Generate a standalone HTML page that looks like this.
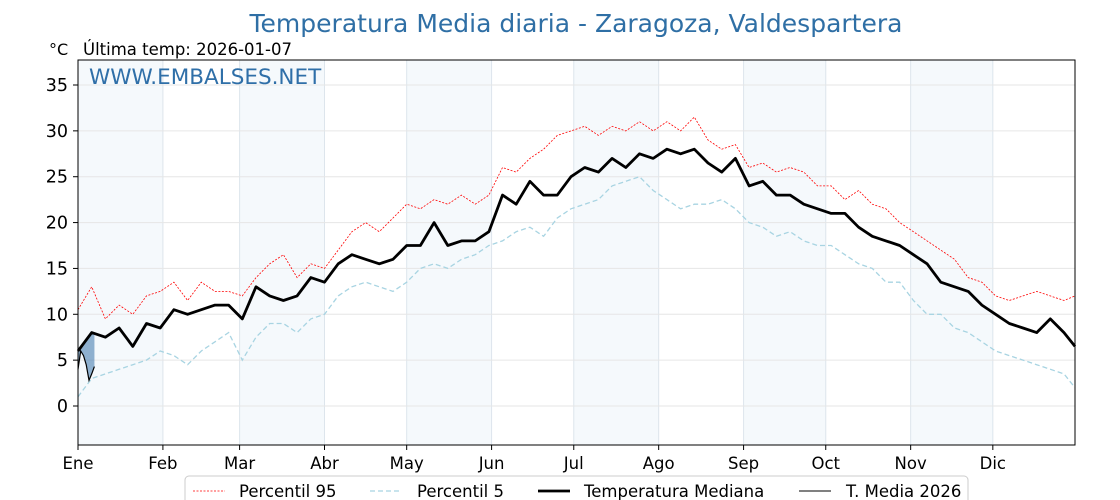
<!DOCTYPE html>
<html><head><meta charset="utf-8"><style>
html,body{margin:0;padding:0;background:#fff;}
svg{display:block;font-family:"Liberation Sans","DejaVu Sans",sans-serif;}
</style></head><body>
<svg id="chart" width="1120" height="500" viewBox="0 0 1120 500" xmlns="http://www.w3.org/2000/svg">
<text x="576" y="32" text-anchor="middle" font-size="25" fill="#2f6fa5" font-family="DejaVu Sans, sans-serif">Temperatura Media diaria - Zaragoza, Valdespartera</text>
<text x="49" y="55" font-size="16" fill="#000" font-family="DejaVu Sans, sans-serif">°C</text>
<text x="83" y="55" font-size="16.5" fill="#000" font-family="DejaVu Sans, sans-serif">Última temp: 2026-01-07</text>
<g id="bands"></g>
<g id="grid"></g>
<g id="series"></g>
<text x="89" y="84" font-size="21.5" fill="#2f6fa8" font-family="DejaVu Sans, sans-serif">WWW.EMBALSES.NET</text>
<rect x="78" y="60" width="997" height="385" fill="none" stroke="#000" stroke-width="1"/>
<g id="axes"></g>
<g>
<rect x="185" y="476" width="783" height="34" rx="4" fill="#fff" stroke="#ccc"/>
<g><line x1="193" y1="491" x2="225" y2="491" stroke="#ff0000" stroke-width="0.8" stroke-dasharray="2,1.5"/><text x="239" y="497" font-size="16.5" font-family="DejaVu Sans, sans-serif">Percentil 95</text></g>
<g><line x1="370" y1="491" x2="402" y2="491" stroke="#a8d4e2" stroke-width="1.3" stroke-dasharray="5,3"/><text x="417" y="497" font-size="16.5" font-family="DejaVu Sans, sans-serif">Percentil 5</text></g>
<g><line x1="538" y1="491" x2="570" y2="491" stroke="#000" stroke-width="2.8"/><text x="584" y="497" font-size="16.5" font-family="DejaVu Sans, sans-serif">Temperatura Mediana</text></g>
<g><line x1="799" y1="491" x2="831" y2="491" stroke="#000" stroke-width="1"/><text x="846" y="497" font-size="16.5" font-family="DejaVu Sans, sans-serif">T. Media 2026</text></g>
</g>
</svg>
<script>
const days = [0,5,10,15,20,25,30,35,40,45,50,55,60,65,70,75,80,85,90,95,100,105,110,115,120,125,130,135,140,145,150,155,160,165,170,175,180,185,190,195,200,205,210,215,220,225,230,235,240,245,250,255,260,265,270,275,280,285,290,295,300,305,310,315,320,325,330,335,340,345,350,355,360,364];
const median = [6,8,7.5,8.5,6.5,9,8.5,10.5,10,10.5,11,11,9.5,13,12,11.5,12,14,13.5,15.5,16.5,16,15.5,16,17.5,17.5,20,17.5,18,18,19,23,22,24.5,23,23,25,26,25.5,27,26,27.5,27,28,27.5,28,26.5,25.5,27,24,24.5,23,23,22,21.5,21,21,19.5,18.5,18,17.5,16.5,15.5,13.5,13,12.5,11,10,9,8.5,8,9.5,8,6.5];
const p95 = [10.5,13,9.5,11,10,12,12.5,13.5,11.5,13.5,12.5,12.5,12,14,15.5,16.5,14,15.5,15,17,19,20,19,20.5,22,21.5,22.5,22,23,22,23,26,25.5,27,28,29.5,30,30.5,29.5,30.5,30,31,30,31,30,31.5,29,28,28.5,26,26.5,25.5,26,25.5,24,24,22.5,23.5,22,21.5,20,19,18,17,16,14,13.5,12,11.5,12,12.5,12,11.5,12];
const p5 = [1,3,3.5,4,4.5,5,6,5.5,4.5,6,7,8,5,7.5,9,9,8,9.5,10,12,13,13.5,13,12.5,13.5,15,15.5,15,16,16.5,17.5,18,19,19.5,18.5,20.5,21.5,22,22.5,24,24.5,25,23.5,22.5,21.5,22,22,22.5,21.5,20,19.5,18.5,19,18,17.5,17.5,16.5,15.5,15,13.5,13.5,11.5,10,10,8.5,8,7,6,5.5,5,4.5,4,3.5,2];
const days2026 = [0,1,2,3,4,5,6];
const temp2026 = [4.0,6.0,5.5,4.5,2.8,3.5,4.3];
const yTicks = [0,5,10,15,20,25,30,35];
const monthLabels = ["Ene","Feb","Mar","Abr","May","Jun","Jul","Ago","Sep","Oct","Nov","Dic"];
const monthStarts = [0,31,59,90,120,151,181,212,243,273,304,334];

const X0=78,X1=1075,Y0=445,Y1=60,NS="http://www.w3.org/2000/svg";
const xs=d=>X0+d*(X1-X0)/364;
const ys=v=>406-v*(406-85)/35;
function mk(tag,attrs,parent){const e=document.createElementNS(NS,tag);for(const k in attrs)e.setAttribute(k,attrs[k]);parent.appendChild(e);return e;}
const bands=document.getElementById('bands'),grid=document.getElementById('grid'),series=document.getElementById('series'),axes=document.getElementById('axes');
for(let i=0;i<12;i+=2){const a=xs(monthStarts[i]),b=xs(i+1<12?monthStarts[i+1]:364);
const r=mk('rect',{x:a,y:Y1,width:b-a,height:Y0-Y1,fill:'#f5f9fc'},bands);

}
monthStarts.forEach((d,i)=>{const x=xs(d);
const l=mk('line',{x1:x,x2:x,y1:Y1,y2:Y0,stroke:'#dde5ec','stroke-width':1},grid);


const t=mk('line',{x1:x,x2:x,y1:Y0,y2:Y0+5,stroke:'#000'},axes);


const tx=mk('text',{x:x,y:Y0+24,'text-anchor':'middle','font-size':16.5,'font-family':'DejaVu Sans, sans-serif'},axes);tx.textContent=monthLabels[i];

});
yTicks.forEach(v=>{const y=ys(v);
const l=mk('line',{x1:X0,x2:X1,y1:y,y2:y,stroke:'#e6e6e6','stroke-width':1},grid);


const t=mk('line',{x1:X0-5,x2:X0,y1:y,y2:y,stroke:'#000'},axes);


const tx=mk('text',{x:X0-10,y:y+6,'text-anchor':'end','font-size':17.5,'font-family':'DejaVu Sans, sans-serif'},axes);tx.textContent=v;

});
const pts=(dd,vv)=>dd.map((d,i)=>xs(d).toFixed(1)+','+ys(vv[i]).toFixed(1)).join(' ');
function interp(d){for(let i=0;i<days.length-1;i++){if(d>=days[i]&&d<=days[i+1]){const t=(d-days[i])/(days[i+1]-days[i]);return median[i]+t*(median[i+1]-median[i]);}}return median[median.length-1];}
const fillPts=days2026.map((d,i)=>xs(d)+','+ys(temp2026[i])).concat(days2026.slice().reverse().map(d=>xs(d)+','+ys(interp(d)))).join(' ');
const f=mk('polygon',{points:fillPts,fill:'#4a7fb0','fill-opacity':0.6},series);


const a=mk('polyline',{points:pts(days,p95),fill:'none',stroke:'#ff0000','stroke-width':0.8,'stroke-dasharray':'2,1.5'},series);


const b=mk('polyline',{points:pts(days,p5),fill:'none',stroke:'#a8d4e2','stroke-width':1.3,'stroke-dasharray':'5,3'},series);


const c=mk('polyline',{points:pts(days,median),fill:'none',stroke:'#000','stroke-width':2.8,'stroke-linejoin':'round'},series);


const e=mk('polyline',{points:pts(days2026,temp2026),fill:'none',stroke:'#000','stroke-width':1.2},series);


</script>
</body></html>
